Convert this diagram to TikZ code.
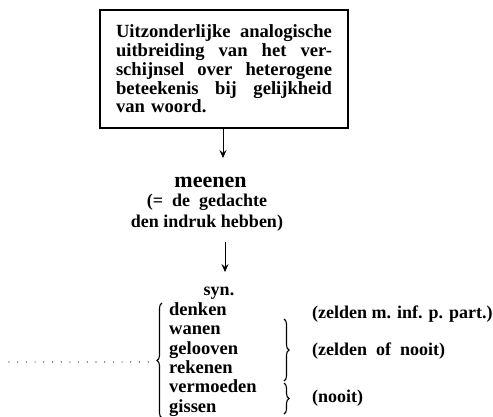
\documentclass[tikz,border=0pt]{standalone}
\usepackage{fontspec}
\setmainfont{Liberation Serif}
\usetikzlibrary{arrows.meta,decorations.pathreplacing}
\tikzset{
  txt/.style={font=\fontsize{18}{19.5}\selectfont\bfseries, inner sep=0pt},
  wrd/.style={font=\fontsize{18.5}{19.5}\selectfont\bfseries, inner sep=0pt, anchor=base west},
  arr/.style={line width=0.7pt, -{Stealth[length=8pt,width=7pt,inset=3pt]}},
  brc/.style={decorate, decoration={brace,amplitude=5pt}, line width=1.1pt},
  dots/.style={line width=1.2pt, line cap=round, dash pattern=on 0pt off 8.7pt},
}
\begin{document}
\begin{tikzpicture}[x=1pt,y=-1pt]
\useasboundingbox (0,0) rectangle (493,416);
% box
\node[draw, line width=1.5pt, minimum width=248pt, minimum height=118pt,
      text width=216pt, inner sep=0pt, align=left,
      font=\fontsize{18.6}{18.8}\selectfont\bfseries] (box) at (224,69)
  {Uitzonderlijke\hfill analogische\\
   uitbreiding\hfill van\hfill het\hfill ver-\\
   schijnsel\hfill over\hfill heterogene\\
   beteekenis\hfill bij\hfill gelijkheid\\
   van woord.};
\coordinate (a1e) at (223,158);
\draw[arr] (box.south -| a1e) -- (a1e);
% meenen
\node[font=\fontsize{22}{24}\selectfont\bfseries, inner sep=0pt, anchor=base] (meenen) at (210.5,187) {meenen};
\node[txt, align=center, anchor=north, font=\fontsize{18}{20.5}\selectfont\bfseries] (gloss) at (207,194)
  {(=\ \ de\ \ gedachte\\den indruk hebben)};
\coordinate (a2e) at (225,272);
\draw[arr, shorten <=11pt] (gloss.south -| a2e) -- (a2e);
% syn list
\node[txt, anchor=base] (syn) at (219,295) {syn.};
\node[wrd] (w1) at (169,315) {denken};
\node[wrd] (w2) at (169,334.5) {wanen};
\node[wrd] (w3) at (169,354) {gelooven};
\node[wrd] (w4) at (169,373) {rekenen};
\node[wrd] (w5) at (169,392.5) {vermoeden};
\node[wrd] (w6) at (169,412) {gissen};
% braces
\draw[brc] (162,418) -- coordinate[pos=0.5] (lb) (162,303);
\draw[brc] (284,319) -- (284,381);
\draw[brc] (284,383) -- (284,414);
% notes
\node[txt, anchor=base west] (n1) at (312,318) {(zelden m. inf. p. part.)};
\node[txt, anchor=base west] (n2) at (312,355) {(zelden\ \ of\ \ nooit)};
\node[txt, anchor=base west] (n3) at (312,402) {(nooit)};
% dotted lead
\coordinate (d0) at (9,362);
\coordinate (d1) at (149,362);
\draw[dots] (d0) -- (d1);
\end{tikzpicture}
\end{document}
